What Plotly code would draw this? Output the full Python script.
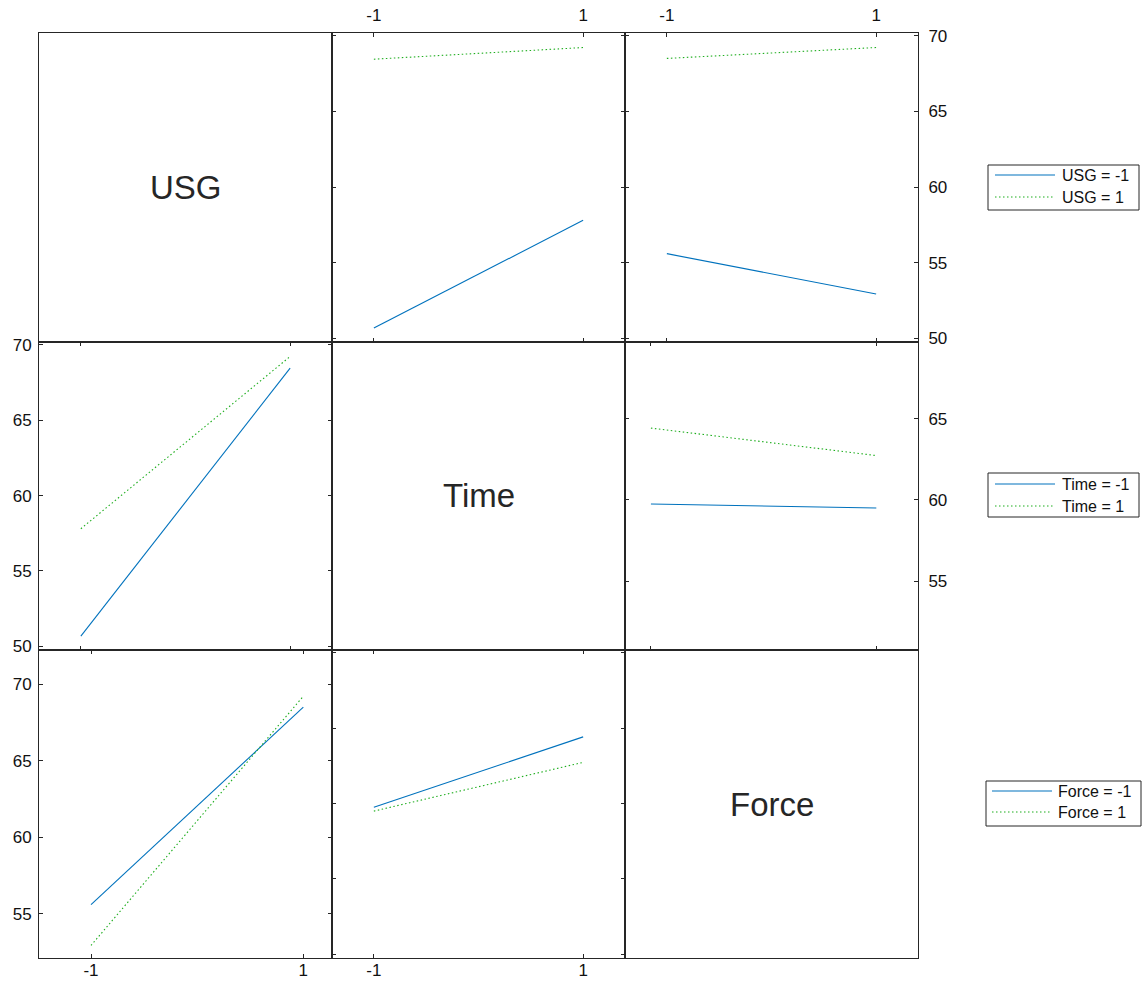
import plotly.graph_objects as go

# Factor names and their two coded levels
factors = ["USG", "Time", "Force"]
levels = [-1, 1]

# Cell means for each pair of factors: [level of first factor][level of second factor]
mean_usg_time = [[50.68, 57.80], [68.45, 69.22]]
mean_usg_force = [[55.60, 52.93], [68.50, 69.22]]
mean_time_force = [[59.75, 59.50], [64.42, 62.73]]

pair_means = {
    ("USG", "Time"): mean_usg_time,
    ("USG", "Force"): mean_usg_force,
    ("Time", "Force"): mean_time_force,
}

y_ticks = [50, 55, 60, 65, 70]
x_tick_labels = ["-1", "1"]

W, H = 1145, 984
col_px = [(39, 332), (332, 625), (625, 918)]
row_px = [(33, 342), (342, 650), (650, 958)]

# per-panel axis ranges (row, col)
x_range = {(1, 0): [-1.4, 1.4], (2, 0): [-1.49, 1.27], (0, 1): [-1.4, 1.4],
           (2, 1): [-1.4, 1.4], (0, 2): [-1.4, 1.4], (1, 2): [-1.23, 1.37]}
y_range = {(1, 0): [49.76, 70.18], (2, 0): [52.11, 72.24], (0, 1): [49.76, 70.18],
           (2, 1): [49.76, 70.18], (0, 2): [49.76, 70.18], (1, 2): [50.76, 69.72]}

AX = "#262626"
TXT = "#111111"
BLUE = "#0072BD"
GREEN = "#1fae1f"
DOTS = "1.5px,2.5px"
FONT = "Liberation Sans, Arial, sans-serif"


def cell_mean(group, group_lvl, xfac, x_lvl):
    if (group, xfac) in pair_means:
        return pair_means[(group, xfac)][group_lvl][x_lvl]
    return pair_means[(xfac, group)][x_lvl][group_lvl]


fig = go.Figure()
layout = {}
annotations = []
shapes = []

for r in range(3):
    for c in range(3):
        k = r * 3 + c + 1
        sfx = "" if k == 1 else str(k)
        xd = [col_px[c][0] / W, col_px[c][1] / W]
        yd = [1 - row_px[r][1] / H, 1 - row_px[r][0] / H]
        base = dict(showline=True, linecolor=AX, linewidth=1, showgrid=False,
                    zeroline=False, fixedrange=True, automargin=False)
        if r == c:
            # name cell: empty box with the factor name in the middle
            fig.add_trace(go.Scatter(x=[0.5], y=[0.5], mode="markers",
                                     xaxis="x" + sfx, yaxis="y" + sfx,
                                     marker=dict(opacity=0), showlegend=False,
                                     hoverinfo="skip"))
            layout["xaxis" + sfx] = dict(base, domain=xd, range=[0, 1], mirror=True,
                                         ticks="", showticklabels=False, anchor="y" + sfx)
            layout["yaxis" + sfx] = dict(base, domain=yd, range=[0, 1], mirror=True,
                                         ticks="", showticklabels=False, anchor="x" + sfx)
            annotations.append(dict(
                x=(col_px[c][0] + col_px[c][1]) / 2 / W,
                y=1 - (row_px[r][0] + row_px[r][1]) / 2 / H,
                xref="paper", yref="paper", text=factors[r], showarrow=False,
                xanchor="center", yanchor="middle",
                font=dict(family=FONT, size=33, color=AX)))
            continue

        group, xfac = factors[r], factors[c]
        for gi, (color, dash) in enumerate([(BLUE, "solid"), (GREEN, DOTS)]):
            ys = [cell_mean(group, gi, xfac, xi) for xi in range(2)]
            fig.add_trace(go.Scatter(
                x=levels, y=ys, mode="lines", xaxis="x" + sfx, yaxis="y" + sfx,
                line=dict(color=color, width=1.1, dash=dash),
                showlegend=False, hoverinfo="skip"))

        xside = "top" if r == 0 else "bottom"
        show_x = r == 0 or r == 2
        yside = "right" if c == 2 else "left"
        show_y = c == 2 or c == 0
        layout["xaxis" + sfx] = dict(
            base, domain=xd, range=x_range[(r, c)], mirror="ticks", ticks="inside",
            ticklen=4, tickcolor=AX, tickvals=levels, ticktext=x_tick_labels,
            side=xside, showticklabels=show_x, anchor="y" + sfx,
            ticklabelstandoff=4 if r == 0 else -3,
            tickfont=dict(family=FONT, size=17, color=TXT))
        layout["yaxis" + sfx] = dict(
            base, domain=yd, range=y_range[(r, c)], mirror="ticks", ticks="inside",
            ticklen=4, tickcolor=AX, tickvals=y_ticks,
            side=yside, showticklabels=show_y, anchor="x" + sfx,
            ticklabelstandoff=6 if c == 2 else 3,
            tickfont=dict(family=FONT, size=17, color=TXT))

# legend boxes, one per grouping factor
legend_boxes = [
    (988, 1139, 165, 210, 175, 197, 995, 1055, 1060),
    (988, 1139, 473, 517, 484, 506, 995, 1055, 1060),
    (986, 1141, 781, 826, 791, 812, 992, 1052, 1056),
]
for f, (x0, x1, y0, y1, ya, yb, lx0, lx1, tx) in zip(factors, legend_boxes):
    shapes.append(dict(type="rect", xref="paper", yref="paper",
                       x0=x0 / W, x1=x1 / W, y0=1 - y1 / H, y1=1 - y0 / H,
                       line=dict(color=AX, width=1), fillcolor="white"))
    for lvl, yy, color, dash in [(levels[0], ya, BLUE, "solid"),
                                 (levels[1], yb, GREEN, DOTS)]:
        shapes.append(dict(type="line", xref="paper", yref="paper",
                           x0=lx0 / W, x1=lx1 / W, y0=1 - yy / H, y1=1 - yy / H,
                           line=dict(color=color, width=1.1, dash=dash)))
        annotations.append(dict(x=tx / W, y=1 - yy / H, xref="paper", yref="paper",
                                text=f"{f} = {lvl}", showarrow=False,
                                xanchor="left", yanchor="middle",
                                font=dict(family=FONT, size=16, color=TXT)))

fig.update_layout(
    width=W, height=H, autosize=False,
    margin=dict(l=0, r=0, t=0, b=0, autoexpand=False),
    paper_bgcolor="white", plot_bgcolor="white",
    annotations=annotations, shapes=shapes,
    showlegend=False,
    **layout,
)

fig.write_html("out.html")
